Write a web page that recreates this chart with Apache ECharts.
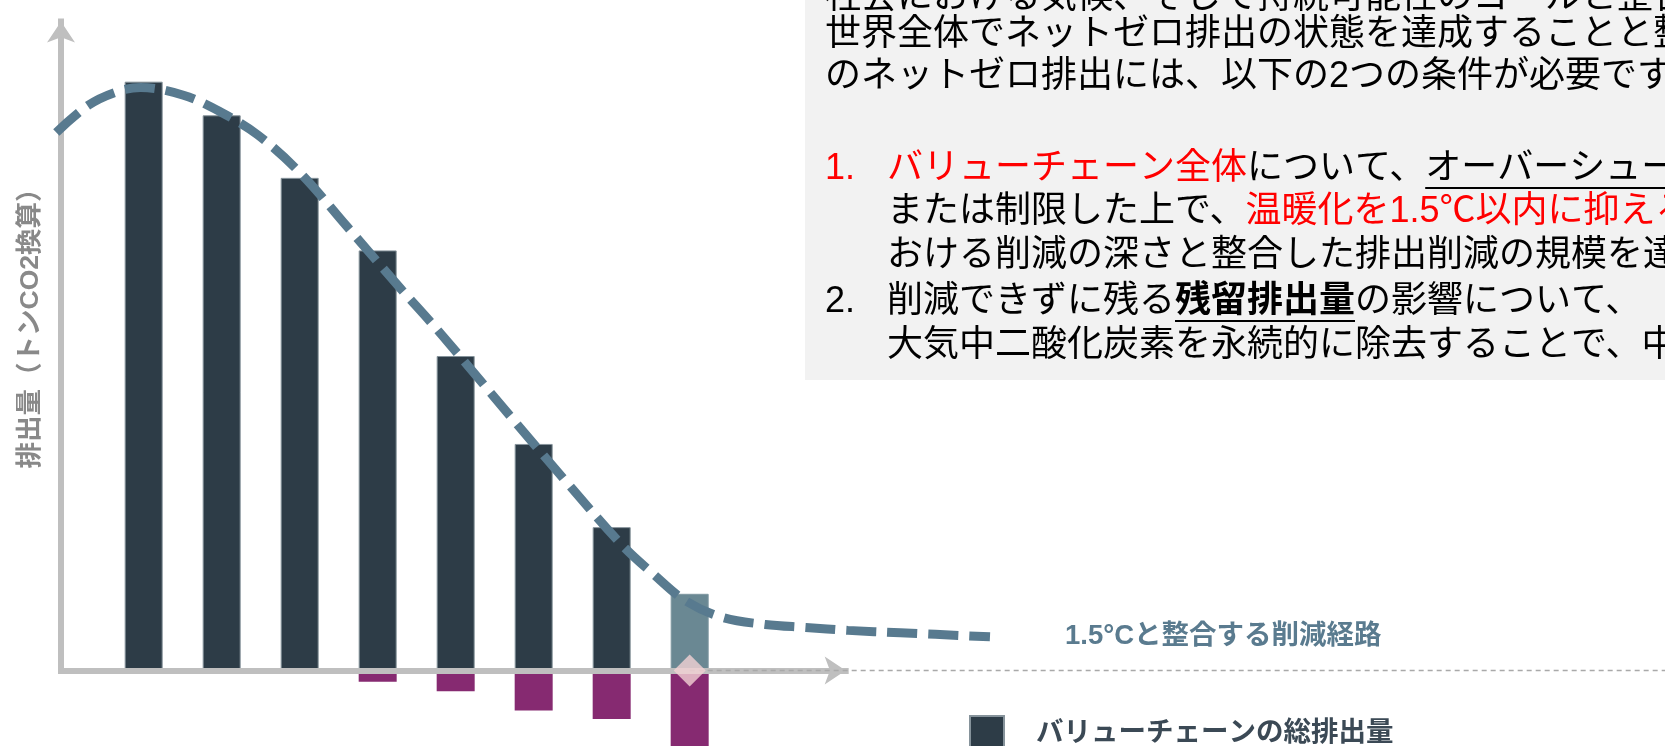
<!DOCTYPE html>
<html>
<head>
<meta charset="utf-8">
<script src="https://cdn.jsdelivr.net/npm/echarts@6/dist/echarts.min.js"></script>
<style>
html,body{margin:0;padding:0;background:#ffffff;}
#chart{width:1665px;height:746px;}
</style>
</head>
<body>
<div id="chart"></div>
<script>
// ---------- data ----------
const barX = [1, 2, 3, 4, 5, 6, 7, 8];
const totalEmissions = [99.8, 94.1, 83.5, 71.2, 53.3, 38.4, 24.3, 13.0];
const removals = [null, null, null, -1.9, -3.5, -6.8, -8.2, -13.0];
const pathX = [-0.12, 0.29, 0.66, 0.96, 1.51, 1.98, 2.46, 3.01, 3.61, 4.31, 4.67, 5.02, 5.72, 6.43, 7.13, 7.53, 7.95, 8.42, 8.97, 9.49, 10.03, 10.70, 11.85];
const pathY = [91.2, 95.8, 98.1, 98.8, 97.5, 94.7, 90.8, 84.3, 75.2, 64.5, 59.2, 53.8, 42.8, 31.8, 21.3, 16.4, 11.8, 9.0, 7.8, 7.3, 6.8, 6.4, 5.7];
const netZeroX = [8];
const netZeroY = [0];
const baselineX = [8, 20.6];
const baselineY = [0, 0];

const seriesNames = ['バリューチェーンの総排出量', '除去量', '1.5°Cと整合する削減経路'];
const yAxisName = '排出量（トンCO2換算）';

// text block (segments: [text, style]) n=normal r=red u=underline bu=bold underline
const introLines = [
  [['社会における気候、そして持続可能性のゴールと整合', 'n']],
  [['世界全体でネットゼロ排出の状態を達成することと整合', 'n']],
  [['のネットゼロ排出には、以下の2つの条件が必要です。', 'n']]
];
const listNumbers = [['1.', 'r'], ['2.', 'n']];
const listLines = [
  [['バリューチェーン全体', 'r'], ['について、', 'n'], ['オーバーシュートなし', 'u']],
  [['または制限した上で、', 'n'], ['温暖化を1.5℃以内に抑える経路に', 'r']],
  [['おける削減の深さと整合した排出削減の規模を達成', 'n']],
  [['削減できずに残る', 'n'], ['残留排出量', 'bu'], ['の影響について、', 'n']],
  [['大気中二酸化炭素を永続的に除去することで、中和', 'n']]
];

// ---------- layout / styles ----------
const FONT = '"Liberation Sans", "Noto Sans CJK JP", sans-serif';
const FS = 36;
const introY = [-2, 35, 77];
const listY = [169, 212, 256, 302, 346];
const numX = 825, textX = 887;

const mctx = document.createElement('canvas').getContext('2d');
function measure(t, bold) {
  mctx.font = (bold ? 'bold ' : '') + FS + 'px ' + FONT;
  return mctx.measureText(t).width;
}
function segStyle(s) {
  return {
    fill: s === 'r' ? '#ff0000' : '#000000',
    fontWeight: s === 'bu' ? 'bold' : 'normal',
    fontSize: FS,
    fontFamily: FONT
  };
}
const graphics = [{
  type: 'rect', z: 0,
  shape: { x: 805, y: -5, width: 880, height: 385 },
  style: { fill: '#f2f2f2' }
}, {
  type: 'text', z: 2, x: 31, y: 322, rotation: Math.PI / 2,
  style: { text: yAxisName, fill: '#898989', fontSize: 26.5, fontWeight: 'bold', fontFamily: FONT,
    align: 'center', verticalAlign: 'middle' }
}];
function addLine(x, y, segs) {
  const rich = {};
  let text = '';
  let cx = x;
  segs.forEach((sg, i) => {
    rich['s' + i] = segStyle(sg[1]);
    text += '{s' + i + '|' + sg[0] + '}';
    const w = measure(sg[0], sg[1] === 'bu');
    if (sg[1] === 'u' || sg[1] === 'bu') {
      graphics.push({
        type: 'line', z: 2,
        shape: { x1: cx, y1: y + 19, x2: cx + w, y2: y + 19 },
        style: { stroke: '#000000', lineWidth: 2.2 }
      });
    }
    cx += w;
  });
  graphics.push({
    type: 'text', z: 2, x: x, y: y,
    style: { text: text, rich: rich, align: 'left', verticalAlign: 'middle', fontSize: FS, fontFamily: FONT }
  });
}
introLines.forEach((l, i) => addLine(numX, introY[i], l));
addLine(numX, listY[0], [listNumbers[0]]);
addLine(numX, listY[3], [listNumbers[1]]);
listLines.forEach((l, i) => addLine(textX, listY[i], l));

// overlay grid spanning whole width with the same scale (78 px / unit) so lines are not clipped
const UNIT = 78, GL = 61, XMIN = -0.06;
const ovMin = XMIN - GL / UNIT;
const ovMax = ovMin + 1665 / UNIT;

const hiddenAxis = { show: false };
const chart = echarts.init(document.getElementById('chart'), null, { renderer: 'canvas' });
const option = {
  animation: false,
  backgroundColor: '#ffffff',
  grid: [
    { left: GL, right: 1665 - GL - UNIT * (10 - XMIN), top: 21.5, bottom: 75.5, outerBoundsMode: 'none', containLabel: false },
    { left: 0, right: 0, top: 21.5, bottom: 75.5, outerBoundsMode: 'none', containLabel: false }
  ],
  legend: {
    data: [seriesNames[0]],
    left: 969, top: 715, padding: 0,
    icon: 'rect', itemWidth: 34, itemHeight: 34,
    selectedMode: false,
    textStyle: { color: '#3b4955', fontSize: 27.5, fontWeight: 'bold', fontFamily: FONT, padding: [0, 0, 0, 27] }
  },
  xAxis: [{
    type: 'value', min: XMIN, max: 10, z: 3, gridIndex: 0,
    axisLine: { show: true, onZero: true, symbol: ['none', 'arrow'], symbolSize: [21, 21],
      lineStyle: { color: '#bfbfbf', width: 6, cap: 'square' } },
    axisTick: { show: false }, axisLabel: { show: false }, splitLine: { show: false }
  }, Object.assign({ type: 'value', gridIndex: 1, min: ovMin, max: ovMax }, hiddenAxis)],
  yAxis: [{
    type: 'value', min: 0, max: 110, z: 3, gridIndex: 0,
    axisLine: { show: true, onZero: false, symbol: ['none', 'arrow'], symbolSize: [21, 21],
      lineStyle: { color: '#bfbfbf', width: 6, cap: 'square' } },
    axisTick: { show: false }, axisLabel: { show: false }, splitLine: { show: false }
  }, Object.assign({ type: 'value', gridIndex: 1, min: 0, max: 110 }, hiddenAxis)],
  series: [
    {
      name: seriesNames[0], type: 'bar', stack: 'v', barWidth: 38, z: 1, silent: true,
      itemStyle: { color: '#2d3c47', borderColor: '#86939b', borderWidth: 1 },
      data: barX.map((x, i) => i === 7
        ? { value: [x, totalEmissions[i]], itemStyle: { color: '#6a8893', borderColor: '#7f98a1' } }
        : { value: [x, totalEmissions[i]] })
    },
    {
      name: seriesNames[1], type: 'bar', stack: 'v', barWidth: 38, z: 1, clip: false, silent: true,
      itemStyle: { color: '#862a71' },
      data: barX.map((x, i) => [x, removals[i]])
    },
    {
      name: seriesNames[2], type: 'line', xAxisIndex: 1, yAxisIndex: 1,
      smooth: 0.35, symbol: 'none', showSymbol: false,
      clip: false, z: 5, silent: true,
      lineStyle: { color: '#587a8f', width: 9, type: [30, 11], cap: 'butt' },
      endLabel: { show: true, formatter: '{a}', distance: 75, color: '#5a7b8f',
        fontSize: 27.5, fontWeight: 'bold', fontFamily: FONT },
      data: pathX.map((x, i) => [x, pathY[i]])
    },
    {
      name: 'baseline', type: 'line', xAxisIndex: 1, yAxisIndex: 1,
      symbol: 'none', showSymbol: false, clip: false, z: 4, silent: true,
      lineStyle: { color: '#a9a9a9', width: 1.5, type: [5, 4] },
      data: baselineX.map((x, i) => [x, baselineY[i]])
    },
    {
      name: 'ネットゼロ', type: 'scatter', xAxisIndex: 1, yAxisIndex: 1,
      symbol: 'diamond', symbolSize: 32, clip: false, z: 6, silent: true,
      itemStyle: { color: '#f2d2d5' },
      data: netZeroX.map((x, i) => [x, netZeroY[i]])
    }
  ],
  graphic: graphics
};
chart.setOption(option);
</script>
</body>
</html>
